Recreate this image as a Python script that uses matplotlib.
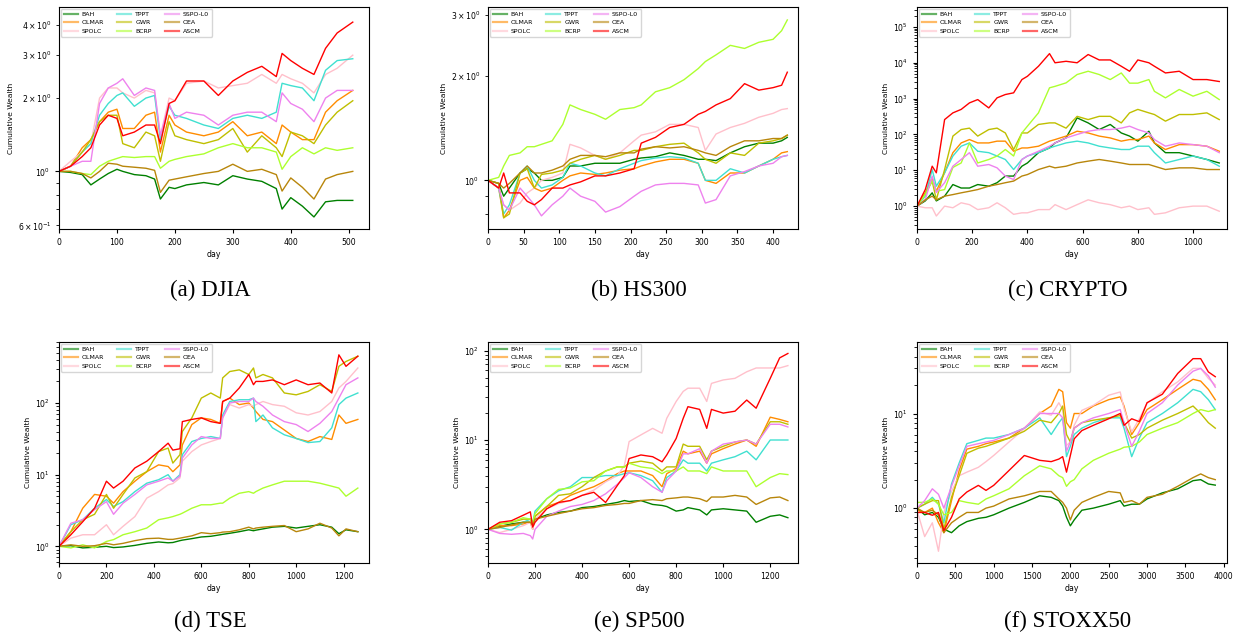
import matplotlib.pyplot as plt

names = ['BAH', 'OLMAR', 'SPOLC', 'TPPT', 'GWR', 'BCRP', 'SSPO-L0', 'OEA', 'ASCM']
colors = ['green', 'darkorange', 'pink', 'turquoise', 'y', 'greenyellow', 'violet', 'darkgoldenrod', 'red']

# (a) DJIA
djia_days = [0, 20, 40, 55, 70, 85, 100, 110, 130, 150, 165, 175, 190, 200, 220, 250, 275, 300, 325, 350, 375, 385, 400, 420, 440, 460, 480, 507]
djia_bah = [1.00, 0.99, 0.97, 0.88, 0.93, 0.98, 1.02, 1.00, 0.97, 0.96, 0.93, 0.77, 0.86, 0.85, 0.88, 0.90, 0.88, 0.96, 0.93, 0.91, 0.85, 0.70, 0.78, 0.72, 0.65, 0.75, 0.76, 0.76]
djia_olmar = [1.0, 1.05, 1.25, 1.35, 1.6, 1.75, 1.8, 1.5, 1.5, 1.7, 1.75, 1.2, 1.7, 1.55, 1.45, 1.4, 1.45, 1.6, 1.4, 1.45, 1.3, 1.55, 1.45, 1.35, 1.35, 1.75, 1.95, 2.15]
djia_spolc = [1.0, 1.1, 1.2, 1.3, 2.0, 2.2, 2.2, 2.1, 2.0, 2.15, 2.1, 1.4, 2.0, 1.95, 2.3, 2.35, 2.2, 2.25, 2.3, 2.5, 2.3, 2.5, 2.4, 2.3, 2.1, 2.5, 2.65, 3.0]
djia_tppt = [1.0, 1.05, 1.2, 1.3, 1.7, 1.9, 2.05, 2.1, 1.85, 2.0, 2.05, 1.35, 1.85, 1.7, 1.65, 1.55, 1.5, 1.65, 1.7, 1.65, 1.75, 2.3, 2.25, 2.2, 1.95, 2.6, 2.85, 2.9]
djia_gwr = [1.0, 1.05, 1.2, 1.35, 1.6, 1.7, 1.7, 1.3, 1.25, 1.45, 1.4, 1.1, 1.6, 1.4, 1.35, 1.3, 1.35, 1.5, 1.2, 1.4, 1.25, 1.15, 1.45, 1.4, 1.3, 1.55, 1.75, 1.95]
djia_bcrp = [1.0, 1.0, 0.98, 0.97, 1.05, 1.1, 1.13, 1.15, 1.14, 1.15, 1.15, 1.03, 1.1, 1.12, 1.15, 1.18, 1.25, 1.3, 1.25, 1.25, 1.2, 1.02, 1.15, 1.25, 1.18, 1.25, 1.22, 1.25]
djia_sspo = [1.0, 1.05, 1.1, 1.1, 1.9, 2.2, 2.3, 2.4, 2.05, 2.2, 2.15, 1.4, 1.9, 1.65, 1.75, 1.7, 1.55, 1.7, 1.75, 1.75, 1.6, 2.1, 1.9, 1.8, 1.6, 2.0, 2.15, 2.15]
djia_oea = [1.0, 1.0, 0.98, 0.94, 1.0, 1.08, 1.07, 1.05, 1.04, 1.03, 1.01, 0.82, 0.92, 0.93, 0.95, 0.98, 1.0, 1.07, 1.0, 1.02, 0.97, 0.83, 0.94, 0.86, 0.77, 0.93, 0.97, 1.0]
djia_ascm = [1.0, 1.05, 1.15, 1.25, 1.55, 1.7, 1.65, 1.4, 1.45, 1.55, 1.55, 1.3, 1.9, 1.95, 2.35, 2.35, 2.05, 2.35, 2.55, 2.7, 2.45, 3.05, 2.85, 2.65, 2.5, 3.2, 3.7, 4.1]

# (b) HS300
hs_days = [0, 15, 22, 30, 45, 55, 65, 75, 90, 105, 115, 130, 150, 165, 185, 205, 215, 235, 255, 275, 295, 305, 320, 340, 360, 380, 400, 412, 420]
hs_bah = [1.0, 0.98, 0.9, 0.95, 1.05, 1.08, 1.05, 1.0, 1.0, 1.02, 1.1, 1.1, 1.12, 1.12, 1.12, 1.15, 1.16, 1.17, 1.2, 1.18, 1.15, 1.15, 1.14, 1.2, 1.25, 1.28, 1.28, 1.3, 1.33]
hs_olmar = [1.0, 0.95, 0.78, 0.82, 1.0, 1.02, 0.95, 0.93, 0.95, 1.0, 1.03, 1.05, 1.04, 1.05, 1.07, 1.08, 1.1, 1.13, 1.15, 1.15, 1.12, 1.0, 0.98, 1.05, 1.05, 1.1, 1.15, 1.2, 1.21]
hs_spolc = [1.0, 0.95, 0.85, 0.82, 0.86, 0.92, 0.95, 1.0, 1.02, 1.05, 1.27, 1.24, 1.18, 1.15, 1.2, 1.3, 1.35, 1.38, 1.45, 1.45, 1.42, 1.22, 1.36, 1.42, 1.46, 1.52, 1.56, 1.6, 1.61]
hs_tppt = [1.0, 0.95, 0.8, 0.85, 1.05, 1.1, 1.0, 0.95, 0.97, 1.02, 1.12, 1.1, 1.05, 1.03, 1.08, 1.12, 1.14, 1.16, 1.17, 1.16, 1.12, 1.0, 1.0, 1.08, 1.05, 1.1, 1.15, 1.17, 1.18]
hs_gwr = [1.0, 0.98, 0.78, 0.8, 1.05, 1.08, 0.95, 1.04, 1.05, 1.07, 1.12, 1.15, 1.18, 1.15, 1.18, 1.22, 1.22, 1.25, 1.27, 1.28, 1.2, 1.15, 1.12, 1.2, 1.18, 1.28, 1.3, 1.32, 1.35]
hs_bcrp = [1.0, 1.02, 1.1, 1.18, 1.2, 1.25, 1.25, 1.27, 1.3, 1.45, 1.65, 1.6, 1.55, 1.5, 1.6, 1.62, 1.65, 1.8, 1.85, 1.95, 2.1, 2.2, 2.3, 2.45, 2.4, 2.5, 2.55, 2.7, 2.9]
hs_sspo = [1.0, 0.95, 0.85, 0.82, 0.95, 0.9, 0.85, 0.79, 0.85, 0.9, 0.95, 0.9, 0.87, 0.81, 0.84, 0.9, 0.93, 0.97, 0.98, 0.98, 0.97, 0.86, 0.88, 1.03, 1.06, 1.1, 1.12, 1.17, 1.18]
hs_oea = [1.0, 0.98, 0.95, 0.98, 1.05, 1.1, 1.05, 1.05, 1.07, 1.1, 1.15, 1.18, 1.18, 1.17, 1.2, 1.2, 1.23, 1.25, 1.24, 1.25, 1.22, 1.2, 1.18, 1.25, 1.3, 1.3, 1.32, 1.32, 1.35]
hs_ascm = [1.0, 0.95, 1.05, 0.92, 0.92, 0.87, 0.85, 0.88, 0.95, 0.95, 0.97, 0.99, 1.03, 1.03, 1.05, 1.08, 1.28, 1.33, 1.42, 1.45, 1.55, 1.58, 1.65, 1.72, 1.9, 1.82, 1.85, 1.88, 2.05]

# (c) CRYPTO
cr_days = [0, 30, 55, 70, 100, 130, 160, 190, 220, 260, 290, 320, 350, 380, 400, 440, 480, 500, 540, 580, 620, 660, 700, 740, 770, 800, 840, 860, 900, 950, 1000, 1050, 1095]
cr_bah = [1, 1.4, 2.35, 1.4, 1.9, 4, 3.2, 3.2, 4, 3.6, 4.5, 6.9, 6.9, 13, 16, 31, 42, 58, 80, 290, 210, 137, 190, 110, 90, 65, 123, 58, 31, 31, 25, 20, 16]
cr_olmar = [1, 2.3, 6.2, 2.6, 8.5, 31, 58, 72, 58, 58, 65, 65, 34, 42, 42, 47, 65, 72, 90, 123, 110, 90, 80, 65, 72, 72, 90, 58, 38, 52, 52, 47, 34]
cr_spolc = [1, 0.9, 0.9, 0.53, 1.0, 0.9, 1.24, 1.1, 0.8, 0.9, 1.24, 0.9, 0.59, 0.65, 0.65, 0.8, 0.8, 1.1, 0.8, 1.1, 1.5, 1.24, 1.1, 0.9, 1.0, 0.8, 0.9, 0.59, 0.65, 0.9, 1.0, 1.0, 0.72]
cr_tppt = [1, 1.9, 10.5, 3.6, 8.5, 25, 47, 58, 34, 31, 25, 20, 10.5, 20, 25, 31, 42, 47, 58, 65, 58, 47, 42, 38, 38, 47, 47, 31, 16, 20, 25, 20, 13]
cr_gwr = [1, 2.3, 5, 1.5, 10.5, 90, 137, 150, 90, 137, 150, 110, 38, 110, 110, 190, 210, 210, 150, 320, 260, 320, 320, 210, 400, 500, 400, 360, 235, 360, 360, 400, 260]
cr_bcrp = [1, 2.1, 5, 2.6, 2.9, 12, 16, 58, 16, 20, 25, 38, 25, 110, 170, 400, 2000, 2200, 2750, 4700, 5800, 4700, 3400, 5200, 2700, 2700, 3400, 1600, 1050, 1800, 1170, 1600, 940]
cr_sspo = [1, 1.5, 6.9, 2.4, 4.5, 13, 20, 31, 13, 14.5, 11.7, 6.9, 5.5, 20, 25, 34, 47, 58, 80, 100, 123, 137, 137, 150, 170, 137, 110, 72, 47, 58, 52, 47, 31]
cr_oea = [1, 1.5, 1.9, 1.5, 1.9, 2.1, 2.35, 2.6, 2.9, 3.6, 4, 4.5, 5, 6.9, 7.6, 10.5, 13, 11.7, 13, 16, 18, 20, 18, 16, 14.5, 14.5, 14.5, 13, 10.5, 11.7, 11.7, 10.5, 10.5]
cr_ascm = [1, 2.9, 13, 8.5, 260, 400, 500, 760, 940, 550, 1050, 1300, 1450, 3400, 4200, 8000, 18000, 10000, 11000, 10000, 17000, 12000, 12000, 8000, 5800, 12000, 10000, 8000, 5200, 5800, 3400, 3400, 3000]

# (d) TSE
tse_days = [0, 50, 100, 150, 200, 230, 270, 320, 370, 420, 460, 480, 510, 520, 560, 600, 640, 680, 690, 720, 760, 800, 820, 830, 860, 900, 950, 1000, 1050, 1100, 1150, 1180, 1210, 1260]
tse_bah = [1.0, 1.02, 0.95, 0.97, 1.0, 0.96, 0.98, 1.03, 1.1, 1.15, 1.12, 1.13, 1.2, 1.22, 1.28, 1.35, 1.38, 1.45, 1.47, 1.52, 1.6, 1.7, 1.65, 1.68, 1.75, 1.85, 1.9, 1.8, 1.9, 2.0, 1.85, 1.5, 1.7, 1.6]
tse_olmar = [1, 1.6, 3.4, 5.3, 5, 4, 5.8, 8.1, 11, 13.7, 13, 11, 13.7, 26, 50, 62, 59, 52, 105, 117, 95, 100, 85, 76, 59, 55, 42, 32, 29, 34, 31, 68, 52, 59]
tse_spolc = [1, 1.3, 1.45, 1.45, 2, 1.45, 1.9, 2.6, 4.7, 5.8, 7.2, 7.5, 9, 15.4, 21, 26, 29, 32, 62, 95, 85, 95, 90, 95, 105, 95, 90, 73, 68, 76, 105, 162, 200, 308]
tse_tppt = [1, 2, 2.35, 3.4, 4.5, 3.6, 4.2, 5.8, 7.6, 8.5, 10, 8.1, 10, 19, 29, 32, 34, 32, 68, 105, 111, 111, 117, 55, 68, 45, 36, 32, 28, 29, 45, 95, 117, 138]
tse_gwr = [1, 1.6, 2.35, 2.8, 5.3, 3.4, 5.3, 9, 11, 21, 23.5, 14.5, 19, 40, 62, 117, 138, 117, 224, 275, 290, 250, 308, 224, 250, 224, 138, 130, 145, 180, 145, 325, 380, 450]
tse_bcrp = [1, 0.95, 1.05, 0.95, 1.17, 1.24, 1.45, 1.6, 1.8, 2.35, 2.5, 2.6, 2.8, 2.9, 3.4, 3.8, 3.8, 4, 4, 4.7, 5.5, 5.8, 5.5, 5.8, 6.5, 7.2, 8.1, 8.1, 8.1, 7.6, 6.9, 6.5, 5, 6.5]
tse_sspo = [1, 2.1, 2.35, 3.25, 4.2, 2.8, 4, 5.3, 7.2, 8.1, 9, 8.1, 9.5, 17, 26, 34, 32, 32, 62, 100, 105, 105, 117, 105, 90, 68, 55, 50, 40, 52, 76, 117, 180, 224]
tse_oea = [1.0, 1.05, 1.0, 1.02, 1.1, 1.05, 1.1, 1.2, 1.28, 1.3, 1.25, 1.25, 1.3, 1.32, 1.4, 1.55, 1.5, 1.55, 1.58, 1.6, 1.7, 1.85, 1.75, 1.8, 1.85, 1.9, 1.95, 1.6, 1.75, 2.1, 1.8, 1.4, 1.75, 1.6]
tse_ascm = [1, 1.45, 2.2, 3.4, 8.1, 6.5, 8.1, 12.4, 15.4, 21, 27.5, 22, 23, 55, 59, 62, 55, 52, 105, 117, 162, 250, 180, 200, 200, 210, 180, 210, 180, 190, 138, 470, 325, 450]

# (e) SP500
sp_days = [0, 50, 100, 150, 180, 190, 200, 250, 300, 350, 400, 450, 500, 550, 580, 600, 650, 700, 740, 760, 800, 830, 850, 900, 930, 950, 1000, 1050, 1100, 1140, 1200, 1240, 1275]
sp_bah = [1.0, 1.08, 1.15, 1.2, 1.2, 1.1, 1.3, 1.45, 1.55, 1.6, 1.75, 1.8, 1.9, 2.0, 2.1, 2.05, 2.1, 1.9, 1.85, 1.8, 1.6, 1.65, 1.75, 1.65, 1.45, 1.65, 1.7, 1.65, 1.6, 1.2, 1.4, 1.45, 1.35]
sp_olmar = [1.0, 1.1, 1.1, 1.15, 1.2, 1.0, 1.4, 1.8, 2.0, 2.4, 2.7, 3.0, 3.5, 4.2, 4.5, 4.5, 4.5, 4.0, 3.0, 4.2, 4.8, 7.5, 7.0, 7.5, 5.5, 7.0, 8.0, 9.0, 10, 8.5, 18, 17, 16]
sp_spolc = [1.0, 0.92, 1.0, 1.1, 1.2, 1.0, 1.3, 1.7, 1.94, 2.1, 2.4, 2.75, 3.4, 4.0, 5.2, 9.6, 11.4, 13.5, 11.9, 17.5, 27, 35, 38, 38, 27, 43, 47, 49, 58, 64, 64, 64, 68]
sp_tppt = [1.0, 1.05, 0.98, 1.2, 1.3, 1.2, 1.6, 2.2, 2.7, 3.0, 3.8, 3.8, 4.0, 4.0, 4.2, 4.3, 4.0, 3.5, 2.6, 3.8, 4.5, 6.0, 5.5, 5.5, 4.5, 5.5, 6.0, 6.5, 7.5, 6.0, 10, 10, 10]
sp_gwr = [1.0, 1.15, 1.2, 1.3, 1.3, 1.15, 1.4, 1.8, 2.4, 2.5, 3.0, 3.8, 4.5, 5.0, 5.0, 5.5, 5.8, 5.5, 4.5, 5.0, 5.0, 9.0, 8.5, 8.5, 6.0, 7.5, 8.5, 9.5, 10, 9.0, 16, 16, 15]
sp_bcrp = [1.0, 1.15, 1.2, 1.35, 1.3, 1.2, 1.5, 2.2, 2.8, 2.9, 3.4, 3.5, 4.5, 5.0, 5.0, 5.5, 5.0, 4.8, 4.2, 4.5, 4.5, 5.0, 4.5, 4.5, 4.2, 5.0, 4.5, 4.5, 4.5, 3.0, 3.8, 4.2, 4.1]
sp_sspo = [1.0, 0.9, 0.88, 0.9, 0.85, 0.78, 1.0, 1.4, 1.6, 1.8, 1.9, 2.1, 2.5, 3.2, 3.8, 4.3, 3.8, 3.0, 2.6, 3.5, 4.5, 7.0, 7.0, 8.0, 5.5, 7.5, 9.0, 9.5, 10, 9.0, 15, 15, 14]
sp_oea = [1.0, 1.05, 1.12, 1.2, 1.2, 1.1, 1.3, 1.4, 1.5, 1.6, 1.7, 1.75, 1.85, 1.9, 1.95, 1.95, 2.1, 2.15, 2.1, 2.2, 2.25, 2.3, 2.3, 2.2, 2.05, 2.3, 2.3, 2.4, 2.3, 1.9, 2.25, 2.3, 2.1]
sp_ascm = [1.0, 1.2, 1.25, 1.44, 1.57, 1.06, 1.2, 1.7, 2.0, 2.1, 2.4, 2.6, 2.0, 3.1, 4.0, 6.2, 6.8, 6.5, 5.7, 6.8, 10.4, 17.5, 23.6, 22, 13.5, 22, 20, 21, 28, 22.7, 49, 83, 93]

# (f) STOXX50
sx_days = [0, 100, 200, 280, 350, 450, 550, 650, 800, 900, 1000, 1200, 1400, 1600, 1750, 1850, 1900, 1950, 2000, 2050, 2150, 2300, 2500, 2650, 2700, 2800, 2900, 3000, 3200, 3400, 3600, 3700, 3800, 3890]
sx_bah = [1.0, 0.85, 0.9, 0.8, 0.6, 0.55, 0.65, 0.72, 0.78, 0.8, 0.85, 1.0, 1.15, 1.35, 1.3, 1.2, 1.05, 0.8, 0.65, 0.75, 0.95, 1.0, 1.1, 1.2, 1.05, 1.1, 1.1, 1.25, 1.45, 1.6, 1.95, 2.0, 1.8, 1.75]
sx_olmar = [0.95, 0.9, 1.0, 0.7, 0.55, 1.2, 2.5, 4.2, 4.5, 4.8, 5.0, 5.5, 7.0, 10, 12, 18, 17, 8.0, 7.0, 10, 10, 12, 14, 15, 12, 6.0, 8.0, 11, 14, 18, 23, 22, 18, 14]
sx_spolc = [0.95, 0.5, 0.7, 0.35, 0.9, 1.5, 2.2, 2.4, 2.7, 3.1, 3.6, 5.0, 6.9, 10.4, 9.6, 13, 11, 4.6, 5.0, 7.5, 10.8, 12.2, 15.6, 16.9, 11.3, 6.4, 8.8, 12.8, 17, 21.6, 30, 30, 23.5, 20]
sx_tppt = [1.0, 1.1, 1.3, 1.1, 0.7, 1.8, 3.0, 4.8, 5.2, 5.5, 5.5, 6.0, 7.0, 9.0, 6.0, 8.0, 9.0, 3.5, 4.5, 6.0, 7.0, 8.0, 9.0, 9.0, 7.0, 3.5, 5.5, 8.0, 10, 13, 18, 17, 14, 11]
sx_gwr = [1.0, 1.1, 1.2, 1.2, 0.6, 1.3, 2.2, 3.8, 4.3, 4.5, 4.8, 5.5, 6.5, 8.5, 8.0, 10, 12, 6.0, 5.0, 7.0, 8.0, 8.5, 9.0, 9.5, 8.0, 5.5, 6.0, 7.0, 8.5, 10, 12, 10, 8.0, 7.0]
sx_bcrp = [1.15, 1.15, 1.25, 1.1, 0.85, 0.9, 1.2, 1.15, 1.1, 1.25, 1.35, 1.6, 2.2, 2.8, 2.6, 2.2, 2.1, 1.7, 1.9, 2.0, 2.6, 3.2, 3.8, 4.2, 4.4, 4.5, 5.0, 6.0, 7.0, 8.0, 10, 11, 10.5, 11]
sx_sspo = [1.0, 1.2, 1.6, 1.4, 1.0, 1.7, 2.8, 4.5, 4.8, 5.0, 5.2, 6.0, 7.0, 10, 10, 10, 9.0, 4.0, 5.0, 7.0, 8.0, 9.0, 10, 11, 8.0, 4.5, 6.5, 10, 13, 20, 28, 30, 25, 19]
sx_oea = [1.0, 0.9, 0.95, 0.85, 0.55, 0.7, 0.8, 0.9, 0.9, 1.0, 1.05, 1.25, 1.35, 1.5, 1.5, 1.25, 1.15, 1.0, 0.75, 0.95, 1.15, 1.3, 1.5, 1.45, 1.15, 1.2, 1.1, 1.3, 1.4, 1.7, 2.1, 2.3, 2.1, 2.0]
sx_ascm = [0.9, 0.9, 0.84, 0.9, 0.58, 0.8, 1.25, 1.48, 1.74, 1.54, 1.74, 2.5, 3.6, 3.2, 3.1, 3.3, 3.5, 2.4, 3.6, 5.4, 6.6, 7.5, 8.8, 10, 7.5, 8.8, 8.2, 13, 16, 26.5, 38, 38, 27.5, 24.5]

panels = [
    ('(a) DJIA', djia_days, [djia_bah, djia_olmar, djia_spolc, djia_tppt, djia_gwr, djia_bcrp, djia_sspo, djia_oea, djia_ascm], (0, 535), (0.58, 4.73)),
    ('(b) HS300', hs_days, [hs_bah, hs_olmar, hs_spolc, hs_tppt, hs_gwr, hs_bcrp, hs_sspo, hs_oea, hs_ascm], (0, 435), (0.724, 3.16)),
    ('(c) CRYPTO', cr_days, [cr_bah, cr_olmar, cr_spolc, cr_tppt, cr_gwr, cr_bcrp, cr_sspo, cr_oea, cr_ascm], (0, 1123), (0.23, 3.6e5)),
    ('(d) TSE', tse_days, [tse_bah, tse_olmar, tse_spolc, tse_tppt, tse_gwr, tse_bcrp, tse_sspo, tse_oea, tse_ascm], (0, 1307), (0.585, 710)),
    ('(e) SP500', sp_days, [sp_bah, sp_olmar, sp_spolc, sp_tppt, sp_gwr, sp_bcrp, sp_sspo, sp_oea, sp_ascm], (0, 1318), (0.42, 125)),
    ('(f) STOXX50', sx_days, [sx_bah, sx_olmar, sx_spolc, sx_tppt, sx_gwr, sx_bcrp, sx_sspo, sx_oea, sx_ascm], (0, 4043), (0.263, 57)),
]

fig = plt.figure(figsize=(12.39, 6.38), dpi=100)

lefts = [59 / 1239, 488 / 1239, 917 / 1239]
bottoms = [1 - 229 / 638, 1 - 563 / 638]
heights = [222 / 638, 221 / 638]
width = 310 / 1239

for i, (title, days, series, xlim, ylim) in enumerate(panels):
    row, col = divmod(i, 3)
    ax = fig.add_axes([lefts[col], bottoms[row], width, heights[row]])
    for name, color, vals in zip(names, colors, series):
        ax.plot(days, vals, color=color, lw=1.0, label=name)
    ax.set_yscale('log')
    ax.set_xlim(*xlim)
    ax.set_ylim(*ylim)
    ax.tick_params(which='both', labelsize=5.6)
    ax.tick_params(which='major', length=3)
    ax.tick_params(which='minor', length=2)
    ax.set_xlabel('day', fontsize=5.6, labelpad=2)
    ax.set_ylabel('Cumulative Wealth', fontsize=5.4, labelpad=3)
    leg = ax.legend(loc='upper left', ncol=3, fontsize=4.5, handlelength=2.25,
                    handletextpad=0.65, columnspacing=2.1, borderaxespad=0.3,
                    labelspacing=0.48, borderpad=0.45)
    for h in leg.get_lines():
        h.set_linewidth(1.6)
        h.set_alpha(0.6)
    cx = lefts[col] + width / 2 - 4 / 1239
    cy = 1 - 290 / 638 if row == 0 else 1 - 621 / 638
    fig.text(cx, cy, title, ha='center', va='center', fontsize=16.5,
             family='Liberation Serif')

fig.savefig('out.png', dpi=100)
